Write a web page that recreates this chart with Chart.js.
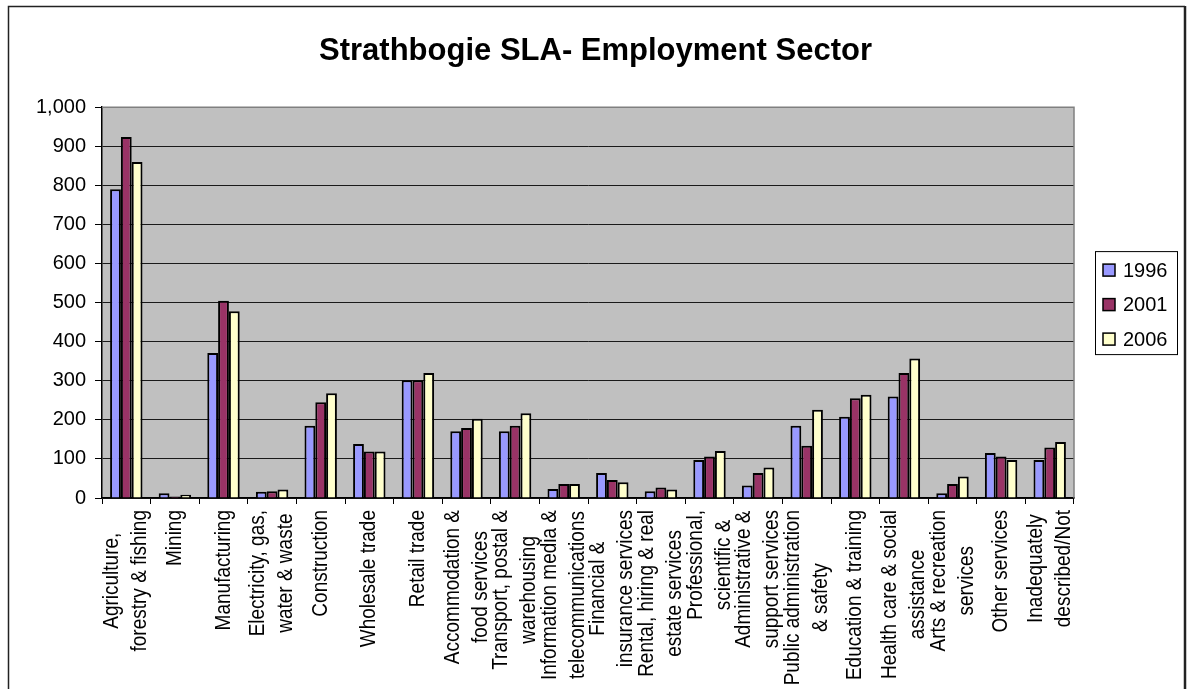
<!DOCTYPE html>
<html>
<head>
<meta charset="utf-8">
<title>Strathbogie SLA- Employment Sector</title>
<script src="https://cdn.jsdelivr.net/npm/chart.js@4/dist/chart.umd.min.js"></script>
<style>
  html, body { margin: 0; padding: 0; background: #fff; }
  canvas { display: block; }
</style>
</head>
<body>
<canvas id="sectorChart" width="1191" height="689"></canvas>
<script>
// Industry sectors, already wrapped the way the axis shows them
const sectors = [
  ['Agriculture,', 'forestry & fishing'],
  ['Mining'],
  ['Manufacturing'],
  ['Electricity, gas,', 'water & waste'],
  ['Construction'],
  ['Wholesale trade'],
  ['Retail trade'],
  ['Accommodation &', 'food services'],
  ['Transport, postal &', 'warehousing'],
  ['Information media &', 'telecommunications'],
  ['Financial &', 'insurance services'],
  ['Rental, hiring & real', 'estate services'],
  ['Professional,', 'scientific &'],
  ['Administrative &', 'support services'],
  ['Public administration', '& safety'],
  ['Education & training'],
  ['Health care & social', 'assistance'],
  ['Arts & recreation', 'services'],
  ['Other services'],
  ['Inadequately', 'described/Not'],
];

const years = ['1996', '2001', '2006'];

const persons1996 = [790, 12, 371, 16, 185, 138, 301, 171, 171, 23, 64, 17, 97, 32, 185, 208, 260, 12, 115, 97];
const persons2001 = [924, 4, 505, 17, 245, 119, 301, 179, 185, 36, 46, 27, 106, 64, 134, 255, 320, 36, 106, 129];
const persons2006 = [860, 8, 478, 22, 268, 119, 320, 203, 217, 36, 40, 22, 120, 78, 226, 264, 357, 55, 97, 143];

const yMin = 0;
const yMax = 1000;
const yStep = 100;

const FONT = '"Liberation Sans", Arial, sans-serif';
const fills = ['#9999FF', '#993366', '#FFFFCC'];

// grey plot area, grey frame on top/right, outer chart border
const frame = {
  id: 'frame',
  beforeDraw(chart) {
    const { ctx, chartArea: a } = chart;
    ctx.save();
    ctx.fillStyle = '#fff';
    ctx.fillRect(0, 0, chart.width, chart.height);
    ctx.fillStyle = '#C0C0C0';
    ctx.fillRect(a.left, a.top, a.right - a.left, a.bottom - a.top);
    ctx.strokeStyle = '#222';
    ctx.lineWidth = 1.5;
    ctx.beginPath();
    ctx.moveTo(8.5, chart.height);
    ctx.lineTo(8.5, 6.5);
    ctx.lineTo(1185, 6.5);
    ctx.stroke();
    ctx.lineWidth = 2.5;
    ctx.beginPath();
    ctx.moveTo(1185, 6);
    ctx.lineTo(1185, chart.height);
    ctx.stroke();
    ctx.restore();
  },
  afterDatasetsDraw(chart) {
    const { ctx, chartArea: a } = chart;
    ctx.save();
    ctx.strokeStyle = '#808080';
    ctx.lineWidth = 1.5;
    ctx.beginPath();
    ctx.moveTo(a.left, a.top);
    ctx.lineTo(a.right, a.top);
    ctx.lineTo(a.right, a.bottom);
    ctx.stroke();
    ctx.restore();
  },
};

// rotated, centred multi-line category labels under the x axis
const sectorLabels = {
  id: 'sectorLabels',
  afterDraw(chart) {
    const { ctx } = chart;
    const xs = chart.scales.x;
    const lineGap = 28;
    ctx.save();
    ctx.font = '19px ' + FONT;
    ctx.fillStyle = '#000';
    ctx.textAlign = 'center';
    ctx.textBaseline = 'middle';
    sectors.forEach((lines, i) => {
      const x = xs.getPixelForTick(i);
      const top = xs.top + 12;
      const maxW = Math.max(...lines.map(l => ctx.measureText(l).width));
      lines.forEach((line, k) => {
        const off = (k - (lines.length - 1) / 2) * lineGap;
        ctx.save();
        ctx.translate(x + off, top + maxW / 2);
        ctx.rotate(-Math.PI / 2);
        // glyphs a little wider across the axis, like the printed labels
        ctx.scale(1, 1.18);
        ctx.fillText(line, 0, 0);
        ctx.restore();
      });
    });
    ctx.restore();
  },
};

// boxed legend to the right of the plot
const boxLegend = {
  id: 'boxLegend',
  afterDraw(chart) {
    const { ctx, chartArea: a } = chart;
    const w = 82, h = 103;
    const left = a.right + 21;
    const top = (a.top + a.bottom) / 2 - h / 2;
    ctx.save();
    ctx.fillStyle = '#fff';
    ctx.fillRect(left, top, w, h);
    ctx.strokeStyle = '#000';
    ctx.lineWidth = 1;
    ctx.strokeRect(left + 0.5, top + 0.5, w, h);
    ctx.font = '20px ' + FONT;
    ctx.textBaseline = 'middle';
    ctx.textAlign = 'left';
    chart.data.datasets.forEach((ds, i) => {
      const cy = top + 19 + i * 34.5;
      ctx.fillStyle = ds.backgroundColor;
      ctx.fillRect(left + 8, cy - 6, 12, 12);
      ctx.strokeStyle = '#000';
      ctx.lineWidth = 1.5;
      ctx.strokeRect(left + 8, cy - 6, 12, 12);
      ctx.fillStyle = '#000';
      ctx.fillText(ds.label, left + 28, cy + 1);
    });
    ctx.restore();
  },
};

new Chart(document.getElementById('sectorChart'), {
  type: 'bar',
  data: {
    labels: sectors,
    datasets: [persons1996, persons2001, persons2006].map((vals, i) => ({
      label: years[i],
      data: vals,
      backgroundColor: fills[i],
      borderColor: '#000',
      borderWidth: 2,
      categoryPercentage: 0.667,
      barPercentage: 1.0,
    })),
  },
  options: {
    responsive: false,
    animation: false,
    devicePixelRatio: 1,
    layout: { padding: { left: 10, right: 10, top: 0, bottom: 0 } },
    plugins: {
      legend: { display: false },
      tooltip: { enabled: false },
      title: {
        display: true,
        text: 'Strathbogie SLA- Employment Sector',
        color: '#000',
        font: { family: FONT, size: 31, weight: 'bold' },
        padding: { top: 33, bottom: 37 },
      },
    },
    scales: {
      x: {
        afterFit: (s) => { s.height = 191; },
        border: { display: true, color: '#000', width: 1.5 },
        grid: {
          offset: true,
          drawOnChartArea: false,
          drawTicks: true,
          tickLength: 6,
          color: '#000',
          lineWidth: 1,
        },
        ticks: { display: false },
      },
      y: {
        min: yMin,
        max: yMax,
        afterFit: (s) => { s.width = 92; },
        border: { display: true, color: '#000', width: 1.5 },
        grid: {
          color: '#1a1a1a',
          lineWidth: 1,
          tickLength: 7,
          tickColor: '#000',
        },
        ticks: {
          stepSize: yStep,
          padding: 9,
          color: '#000',
          font: { family: FONT, size: 20 },
          callback: (v) => v.toLocaleString('en-US'),
        },
      },
      // empty right-hand band that leaves room for the legend box
      legendBand: {
        type: 'linear',
        position: 'right',
        min: yMin,
        max: yMax,
        afterFit: (s) => { s.width = 107; },
        border: { display: false },
        grid: { display: false, drawTicks: false },
        ticks: { display: false },
      },
    },
  },
  plugins: [frame, sectorLabels, boxLegend],
});
</script>
</body>
</html>
